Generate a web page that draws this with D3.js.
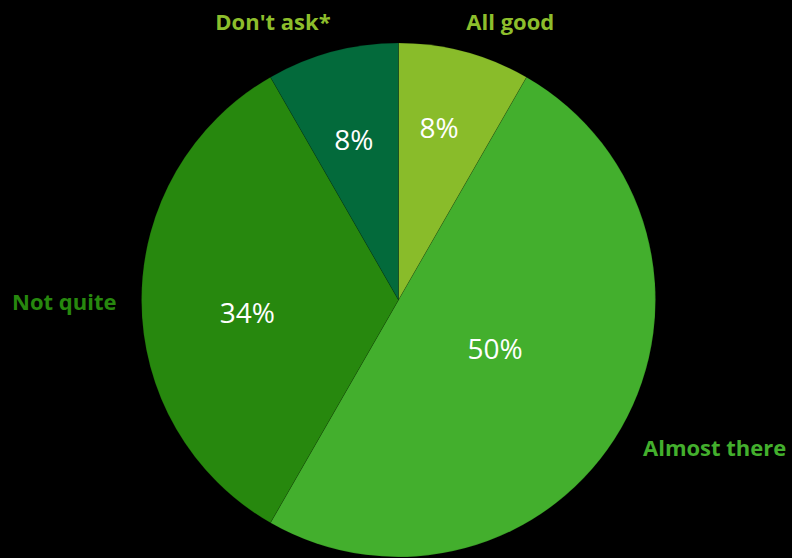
<!DOCTYPE html>
<html>
<head>
<meta charset="utf-8">
<script src="https://cdn.jsdelivr.net/npm/d3@7"></script>
<style>
  html, body { margin: 0; padding: 0; background: #000; }
  svg { display: block; }
</style>
</head>
<body>
<div id="chart"></div>
<script>
// Data: slice shares as drawn, and the labels printed on them
const categories = ["All good", "Almost there", "Not quite", "Don't ask*"];
const values = [8.3, 50, 33.4, 8.3];
const pctLabels = ["8%", "50%", "34%", "8%"];
const sliceColors = ["#89bc2a", "#43af2d", "#27880e", "#036a3b"];
const labelColors = ["#8dbe2c", "#43af2d", "#27880e", "#8dbe2c"];

// Label placement tweaks (radius fraction + angle shift for % labels, nudge for names)
const pctRadius = [0.69, 0.42, 0.59, 0.65];
const pctShift = [-0.03, -0.06, -0.08, -0.01];
const nameNudge = [[-1, -12], [13, 14], [-15, 1], [1, -12]];

const width = 792, height = 558;
const cx = 398.5, cy = 300, R = 257;

const svg = d3.select("#chart").append("svg")
  .attr("width", width)
  .attr("height", height)
  .style("background", "#000");

const g = svg.append("g").attr("transform", `translate(${cx},${cy})`);

const data = categories.map((c, i) => ({ name: c, value: values[i], i }));

const pie = d3.pie().sort(null).value(d => d.value);
const arcs = pie(data);
const arc = d3.arc().innerRadius(0).outerRadius(R);

g.selectAll("path.slice")
  .data(arcs)
  .enter()
  .append("path")
  .attr("class", "slice")
  .attr("d", arc)
  .attr("fill", d => sliceColors[d.data.i])
  .attr("stroke", "rgba(0,0,0,0.18)")
  .attr("stroke-width", 0.7);

// percentage labels
g.selectAll("text.pct")
  .data(arcs)
  .enter()
  .append("text")
  .attr("class", "pct")
  .attr("transform", d => {
    const r = R * pctRadius[d.data.i];
    const a = (d.startAngle + d.endAngle) / 2 + pctShift[d.data.i];
    return `translate(${r * Math.sin(a)},${-r * Math.cos(a)})`;
  })
  .attr("text-anchor", "middle")
  .attr("dominant-baseline", "central")
  .style("font-family", "'Open Sans', Lato, sans-serif")
  .style("font-size", "28px")
  .style("fill", "#fff")
  .text(d => pctLabels[d.data.i]);

// category labels
g.selectAll("text.name")
  .data(arcs)
  .enter()
  .append("text")
  .attr("class", "name")
  .each(function (d) {
    const a = (d.startAngle + d.endAngle) / 2;
    const r = R + 10;
    const n = nameNudge[d.data.i];
    const x = r * Math.sin(a) + n[0];
    const y = -r * Math.cos(a) + n[1];
    d3.select(this)
      .attr("x", x)
      .attr("y", y)
      .attr("text-anchor", Math.sin(a) >= 0 ? "start" : "end")
      .attr("dominant-baseline", Math.abs(Math.cos(a)) > 0.7 ? "auto" : "central");
  })
  .style("font-family", "'Open Sans', Lato, sans-serif")
  .style("font-weight", "bold")
  .style("font-size", "22px")
  .style("fill", d => labelColors[d.data.i])
  .text(d => d.data.name);
</script>
</body>
</html>
